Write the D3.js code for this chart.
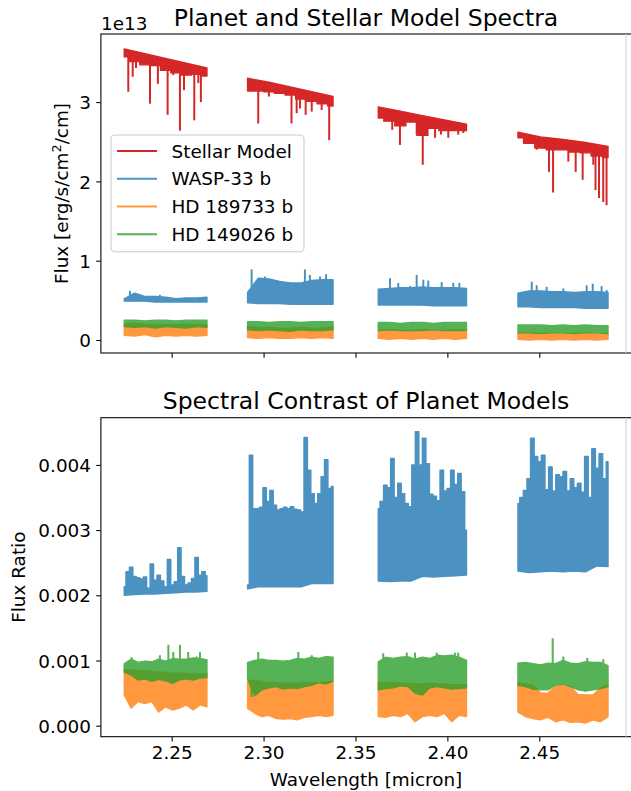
<!DOCTYPE html>
<html><head><meta charset="utf-8">
<script src="https://cdn.jsdelivr.net/npm/d3@7"></script>
<style>
body{margin:0;background:#fff}
svg{display:block}
text{font-family:"DejaVu Sans",sans-serif;fill:#000}
</style>
</head><body>
<svg id="c" width="631" height="791"></svg>
<script>
// ---------------- DATA ----------------
// wavelength coverage of the four spectral orders [micron]
const segRanges = [[2.2242, 2.2692], [2.2913, 2.3378], [2.3624, 2.4104], [2.4384, 2.4874]];
const xTicks = [2.25, 2.30, 2.35, 2.40, 2.45];
const fluxTicks = [0, 1, 2, 3];               // units of 1e13
const ratioTicks = [0, 0.001, 0.002, 0.003, 0.004];
const seriesNames = ["Stellar Model", "WASP-33 b", "HD 189733 b", "HD 149026 b"];
const seriesColors = ["#d62728", "#1f77b4", "#ff7f0e", "#2ca02c"];

// ---- top panel: flux in units of 1e13 erg/s/cm^2/cm (upper / lower envelopes per order) ----
const stellarHi = [
  [3.67, 3.61, 3.55, 3.49, 3.43],
  [3.30, 3.25, 3.19, 3.13, 3.07],
  [2.94, 2.885, 2.83, 2.775, 2.72],
  [2.62, 2.56, 2.53, 2.49, 2.44]
];
const stellarLo = [
  [3.57, 3.51, 3.47, 3.46, 3.40, 3.37, 3.34, 3.35, 3.33],
  [3.14, 3.14, 3.13, 3.11, 3.09, 3.04, 3.01, 2.98, 2.95],
  [2.80, 2.76, 2.70, 2.75, 2.58, 2.67, 2.64, 2.64, 2.64],
  [2.55, 2.48, 2.42, 2.40, 2.40, 2.37, 2.36, 2.32, 2.30]
];
const stellarDips = [
  [[2.2264, 3.13], [2.2288, 3.32], [2.2306, 3.43], [2.2382, 2.98], [2.2425, 3.23], [2.2478, 2.84], [2.2509, 3.34], [2.2545, 2.64], [2.2567, 3.15], [2.2623, 2.77], [2.2645, 3.24], [2.2659, 3.00], [2.2672, 3.34]],
  [[2.2971, 2.73], [2.3029, 3.07], [2.3152, 2.73], [2.3180, 2.86], [2.3198, 2.92], [2.3229, 2.84], [2.3262, 2.88], [2.3316, 2.90], [2.3357, 2.52]],
  [[2.3700, 2.65], [2.3742, 2.46], [2.3769, 2.74], [2.3833, 2.59], [2.3866, 2.21], [2.3933, 2.55], [2.3965, 2.59], [2.4005, 2.55], [2.4059, 2.59], [2.4087, 2.61]],
  [[2.4449, 2.48], [2.4486, 2.40], [2.4553, 2.12], [2.4575, 1.86], [2.4658, 2.25], [2.4698, 2.12], [2.4736, 2.02], [2.4794, 2.21], [2.4806, 1.89], [2.4825, 1.79], [2.4848, 1.74], [2.4866, 1.70]]
];

const wasp33Hi = [
  [0.52, 0.59, 0.55, 0.55, 0.54, 0.52, 0.53, 0.53, 0.54],
  [0.60, 0.78, 0.77, 0.74, 0.72, 0.72, 0.75, 0.76, 0.76],
  [0.64, 0.65, 0.66, 0.66, 0.67, 0.66, 0.66, 0.66, 0.65],
  [0.59, 0.62, 0.62, 0.61, 0.61, 0.60, 0.61, 0.61, 0.60]
];
const wasp33Lo = [
  [0.49, 0.49, 0.49, 0.48, 0.48, 0.48, 0.48, 0.48, 0.48],
  [0.47, 0.46, 0.46, 0.46, 0.45, 0.45, 0.45, 0.45, 0.45],
  [0.44, 0.44, 0.44, 0.44, 0.44, 0.43, 0.43, 0.43, 0.43],
  [0.42, 0.42, 0.41, 0.41, 0.41, 0.41, 0.40, 0.40, 0.40]
];
const wasp33Spikes = [
  [[2.2273, 0.62], [2.2436, 0.57]],
  [[2.2935, 0.89], [2.3008, 0.80], [2.3225, 0.89], [2.3252, 0.82], [2.3307, 0.80], [2.3340, 0.83]],
  [[2.3688, 0.78], [2.3733, 0.72], [2.3797, 0.68], [2.3833, 0.82], [2.3869, 0.76], [2.3896, 0.75], [2.3969, 0.73], [2.4032, 0.72], [2.4065, 0.72]],
  [[2.4459, 0.735], [2.4486, 0.69], [2.4540, 0.67], [2.4631, 0.65], [2.4758, 0.69], [2.4791, 0.71], [2.4839, 0.68], [2.4867, 0.63]]
];

const hd189733Hi = [
  [0.20, 0.21, 0.20, 0.19, 0.20, 0.19, 0.20, 0.20, 0.19],
  [0.17, 0.16, 0.16, 0.15, 0.15, 0.16, 0.15, 0.15, 0.16],
  [0.12, 0.13, 0.12, 0.12, 0.13, 0.12, 0.12, 0.13, 0.12],
  [0.09, 0.09, 0.08, 0.09, 0.08, 0.08, 0.09, 0.08, 0.08]
];
const hd189733Lo = [
  [0.06, 0.05, 0.07, 0.04, 0.06, 0.05, 0.06, 0.05, 0.06],
  [0.03, 0.02, 0.03, 0.02, 0.02, 0.03, 0.02, 0.03, 0.02],
  [0.02, 0.01, 0.02, 0.01, 0.02, 0.01, 0.02, 0.01, 0.02],
  [0.01, 0.00, 0.01, 0.00, 0.01, 0.00, 0.01, 0.00, 0.01]
];

const hd149026Hi = [
  [0.25, 0.25, 0.24, 0.25, 0.25, 0.24, 0.25, 0.25, 0.25],
  [0.23, 0.23, 0.22, 0.23, 0.23, 0.22, 0.23, 0.23, 0.23],
  [0.22, 0.22, 0.21, 0.22, 0.22, 0.21, 0.22, 0.22, 0.22],
  [0.19, 0.19, 0.19, 0.18, 0.19, 0.18, 0.19, 0.18, 0.18]
];
const hd149026Lo = [
  [0.17, 0.16, 0.17, 0.15, 0.17, 0.16, 0.15, 0.17, 0.16],
  [0.13, 0.12, 0.13, 0.12, 0.11, 0.13, 0.12, 0.12, 0.13],
  [0.12, 0.13, 0.12, 0.12, 0.12, 0.13, 0.12, 0.12, 0.12],
  [0.09, 0.09, 0.08, 0.09, 0.09, 0.08, 0.09, 0.09, 0.08]
];

// ---- bottom panel: flux ratio in units of 1e-3 ----
const wasp33RatioHi = [
  [2.13, 2.36, 2.43, 2.29, 2.27, 2.25, 2.28, 2.11, 2.48, 2.23, 2.31, 2.22, 2.13, 2.55, 2.16, 2.21, 2.73, 2.29, 2.16, 2.19, 2.26, 2.58, 2.31, 2.36, 2.30],
  [2.16, 4.15, 3.33, 3.33, 3.35, 3.65, 3.44, 3.61, 3.38, 3.31, 3.33, 3.35, 3.33, 3.36, 3.32, 3.31, 3.28, 4.42, 3.92, 3.56, 3.41, 3.56, 3.82, 4.08, 3.64, 3.67],
  [3.33, 3.44, 3.69, 3.65, 4.10, 3.50, 3.72, 3.56, 3.41, 3.36, 4.00, 4.51, 4.00, 4.41, 4.02, 3.55, 3.52, 3.45, 3.92, 3.60, 3.64, 3.92, 3.70, 3.87, 3.59, 3.00],
  [3.41, 3.50, 3.61, 3.79, 4.41, 4.13, 4.05, 4.15, 3.62, 3.97, 3.60, 3.85, 3.82, 3.90, 3.60, 3.79, 3.65, 3.72, 3.58, 4.13, 3.50, 4.25, 3.95, 4.17, 3.79, 4.05]
];
const wasp33RatioLo = [
  [2.00, 2.01, 2.02, 2.02, 2.03, 2.04, 2.05, 2.05, 2.06],
  [2.10, 2.13, 2.13, 2.13, 2.13, 2.13, 2.18, 2.18, 2.18],
  [2.22, 2.21, 2.22, 2.22, 2.29, 2.28, 2.29, 2.30, 2.31],
  [2.37, 2.35, 2.36, 2.37, 2.36, 2.37, 2.36, 2.45, 2.44]
];

const hd189733RatioHi = [
  [0.86, 0.86, 0.85, 0.84, 0.83, 0.82, 0.82, 0.80, 0.81, 0.80, 0.80, 0.79, 0.80],
  [0.70, 0.69, 0.68, 0.66, 0.66, 0.65, 0.65, 0.65, 0.66, 0.66, 0.66, 0.67, 0.68],
  [0.66, 0.66, 0.66, 0.65, 0.65, 0.64, 0.64, 0.65, 0.64, 0.64, 0.63, 0.63, 0.63],
  [0.66, 0.64, 0.62, 0.50, 0.50, 0.60, 0.63, 0.60, 0.48, 0.47, 0.47, 0.58, 0.62]
];
const hd189733RatioLo = [
  [0.47, 0.27, 0.37, 0.34, 0.37, 0.21, 0.29, 0.24, 0.27, 0.32, 0.24, 0.32, 0.29],
  [0.27, 0.19, 0.14, 0.16, 0.11, 0.10, 0.11, 0.09, 0.13, 0.14, 0.16, 0.14, 0.16],
  [0.14, 0.13, 0.16, 0.14, 0.19, 0.06, 0.14, 0.16, 0.14, 0.19, 0.06, 0.16, 0.14],
  [0.21, 0.14, 0.11, 0.09, 0.13, 0.06, 0.09, 0.05, 0.06, 0.04, 0.09, 0.06, 0.14]
];

const hd149026RatioHi = [
  [0.95, 1.02, 0.97, 0.99, 0.98, 1.02, 0.99, 1.03, 1.02, 1.02, 1.04, 1.03, 1.01],
  [0.97, 1.00, 1.02, 1.00, 1.00, 0.99, 1.00, 1.03, 1.02, 1.05, 1.03, 1.06, 1.05],
  [0.98, 1.05, 1.03, 1.05, 1.06, 1.02, 1.05, 1.03, 1.08, 1.07, 1.08, 1.05, 1.00],
  [0.96, 0.97, 0.95, 0.93, 0.96, 0.95, 1.00, 0.96, 0.95, 0.98, 0.97, 0.97, 0.92]
];
const hd149026RatioLo = [
  [0.82, 0.78, 0.70, 0.72, 0.68, 0.71, 0.69, 0.65, 0.70, 0.72, 0.70, 0.73, 0.74],
  [0.72, 0.46, 0.55, 0.58, 0.60, 0.56, 0.58, 0.57, 0.60, 0.62, 0.66, 0.64, 0.68],
  [0.55, 0.57, 0.58, 0.61, 0.60, 0.50, 0.47, 0.58, 0.60, 0.58, 0.56, 0.57, 0.58],
  [0.62, 0.60, 0.56, 0.55, 0.55, 0.62, 0.64, 0.60, 0.55, 0.53, 0.55, 0.57, 0.60]
];
const hd149026RatioSpikes = [
  [[2.2282, 1.05], [2.2436, 1.08], [2.2482, 1.24], [2.2509, 1.13], [2.2545, 1.24], [2.2590, 1.13], [2.2636, 1.06], [2.2654, 1.13]],
  [[2.2971, 1.13], [2.3189, 1.13], [2.3262, 1.08]],
  [[2.3651, 1.11], [2.3779, 1.12], [2.3824, 1.12], [2.3942, 1.12], [2.4041, 1.12], [2.4059, 1.12]],
  [[2.4573, 1.34], [2.4631, 1.06], [2.4761, 1.04], [2.4848, 1.02]]
];
const hd149026RatioDips = [[], [[2.2935, 0.44]], [], []];

const fluxUnit = 1;      // arrays already in 1e13 units (offset label "1e13")
const ratioUnit = 1e-3;

// ---------------- DRAWING ----------------
const svg = d3.select("#c");
const FS = 18.4;

const x = d3.scaleLinear().domain([2.2115, 2.5005]).range([100.9, 632.1]);
const yTop = d3.scaleLinear().domain([-0.1639, 3.8588]).range([353, 34]);
const yBot = d3.scaleLinear().domain([-0.000169, 0.004724]).range([736.7, 417.7]);

function gridX(range, n, i) { return range[0] + (range[1] - range[0]) * i / (n - 1); }
function interp(seg, range, w) {
  const s = d3.scaleLinear().domain(seg.map((v, i) => gridX(range, seg.length, i))).range(seg).clamp(true);
  return s(w);
}

function drawSeries(g, y, unit, hi, lo, color, opacity, opts) {
  const grp = g.append("g").attr("opacity", opacity);
  const line = d3.line().x(d => x(d[0])).y(d => y(d[1] * unit));
  const lineStep = d3.line().x(d => x(d[0])).y(d => y(d[1] * unit)).curve(d3.curveStep);
  hi.forEach((hs, k) => {
    const r = segRanges[k], ls = lo[k];
    const hiPts = hs.map((v, i) => [gridX(r, hs.length, i), v]);
    const loPts = ls.map((v, i) => [gridX(r, ls.length, i), v]).reverse();
    const top = (opts.stepHi ? lineStep : line)(hiPts);
    const bot = (opts.stepLo ? lineStep : line)(loPts).replace(/^M/, "L");
    grp.append("path")
      .attr("d", top + bot + "Z")
      .attr("fill", color).attr("stroke", color)
      .attr("stroke-width", 1.4).attr("stroke-linejoin", "round");
    (opts.spikes ? opts.spikes[k] : []).forEach(s => {
      grp.append("path").attr("d", line([[s[0], interp(ls, r, s[0])], s]))
        .attr("stroke", color).attr("stroke-width", 2).attr("fill", "none");
    });
    (opts.dips ? opts.dips[k] : []).forEach(s => {
      grp.append("path").attr("d", line([[s[0], interp(hs, r, s[0])], s]))
        .attr("stroke", color).attr("stroke-width", 2).attr("fill", "none");
    });
  });
}

function frame(top, bottom) {
  const g = svg.append("g");
  g.append("rect").attr("x", 100.9).attr("y", top).attr("width", 531.2).attr("height", bottom - top)
    .attr("fill", "none").attr("stroke", "#000").attr("stroke-width", 1.07);
  g.append("line").attr("x1", 626).attr("x2", 626).attr("y1", top).attr("y2", bottom)
    .attr("stroke", "#d0d0d0").attr("stroke-width", 1);
  return g;
}

// ---- top panel ----
const gTop = svg.append("g");
drawSeries(gTop, yTop, fluxUnit, stellarHi, stellarLo, seriesColors[0], 1, {stepLo: true, dips: stellarDips});
drawSeries(gTop, yTop, fluxUnit, wasp33Hi, wasp33Lo, seriesColors[1], 0.8, {spikes: wasp33Spikes});
drawSeries(gTop, yTop, fluxUnit, hd189733Hi, hd189733Lo, seriesColors[2], 0.8, {});
drawSeries(gTop, yTop, fluxUnit, hd149026Hi, hd149026Lo, seriesColors[3], 0.8, {});
frame(34, 353);

// ---- bottom panel ----
const gBot = svg.append("g");
drawSeries(gBot, yBot, ratioUnit, wasp33RatioHi, wasp33RatioLo, seriesColors[1], 0.8, {stepHi: true});
drawSeries(gBot, yBot, ratioUnit, hd189733RatioHi, hd189733RatioLo, seriesColors[2], 0.8, {});
drawSeries(gBot, yBot, ratioUnit, hd149026RatioHi, hd149026RatioLo, seriesColors[3], 0.8, {spikes: hd149026RatioSpikes, dips: hd149026RatioDips});
frame(417.7, 736.7);

// ---- axes ----
function styleAxis(sel) {
  sel.select(".domain").remove();
  sel.selectAll(".tick line").attr("stroke", "#000").attr("stroke-width", 1.07);
  sel.selectAll(".tick text").attr("font-size", FS).attr("font-family", "DejaVu Sans").attr("fill", "#000");
}
svg.append("g").attr("transform", "translate(0,353)")
  .call(d3.axisBottom(x).tickValues(xTicks).tickSize(4.7).tickFormat(""))
  .call(styleAxis);
svg.append("g").attr("transform", "translate(0,736.7)")
  .call(d3.axisBottom(x).tickValues(xTicks).tickSize(4.7).tickPadding(4.3).tickFormat(d3.format(".2f")))
  .call(styleAxis)
  .call(s => s.selectAll(".tick text").attr("dy", "0.73em"));
svg.append("g").attr("transform", "translate(100.9,0)")
  .call(d3.axisLeft(yTop).tickValues(fluxTicks).tickSize(4.7).tickPadding(5.2).tickFormat(d3.format("d")))
  .call(styleAxis)
  .call(s => s.selectAll(".tick text").attr("dy", "0.36em"));
svg.append("g").attr("transform", "translate(100.9,0)")
  .call(d3.axisLeft(yBot).tickValues(ratioTicks).tickSize(4.7).tickPadding(5.2).tickFormat(d3.format(".3f")))
  .call(styleAxis)
  .call(s => s.selectAll(".tick text").attr("dy", "0.36em"));

svg.append("text").attr("x", 101).attr("y", 30).attr("font-size", FS).text("1e13");

svg.append("text").attr("x", 366).attr("y", 26).attr("text-anchor", "middle").attr("font-size", 23.5)
  .text("Planet and Stellar Model Spectra");
svg.append("text").attr("x", 366).attr("y", 408.5).attr("text-anchor", "middle").attr("font-size", 23.5)
  .text("Spectral Contrast of Planet Models");

const yl = svg.append("text").attr("transform", "translate(68,193.5) rotate(-90)")
  .attr("text-anchor", "middle").attr("font-size", FS);
yl.append("tspan").text("Flux [erg/s/cm");
yl.append("tspan").attr("font-size", FS * 0.7).attr("dy", -7).text("2");
yl.append("tspan").attr("dy", 7).text("/cm]");
svg.append("text").attr("transform", "translate(25,577.2) rotate(-90)")
  .attr("text-anchor", "middle").attr("font-size", FS).text("Flux Ratio");
svg.append("text").attr("x", 366).attr("y", 786).attr("text-anchor", "middle").attr("font-size", FS)
  .text("Wavelength [micron]");

const lg = svg.append("g");
lg.append("rect").attr("x", 111).attr("y", 135).attr("width", 193).attr("height", 116.7)
  .attr("rx", 4).attr("fill", "#fff").attr("fill-opacity", 0.8).attr("stroke", "#cccccc").attr("stroke-width", 1.07);
const legOpacity = [1, 0.8, 0.8, 0.8];
seriesNames.forEach((name, i) => {
  const base = 157.7 + i * 27.75;
  lg.append("line").attr("x1", 117).attr("x2", 157).attr("y1", base - 6.8).attr("y2", base - 6.8)
    .attr("stroke", seriesColors[i]).attr("stroke-width", 2).attr("stroke-opacity", legOpacity[i]);
  lg.append("text").attr("x", 171.5).attr("y", base).attr("font-size", FS).text(name);
});
</script>
</body></html>
